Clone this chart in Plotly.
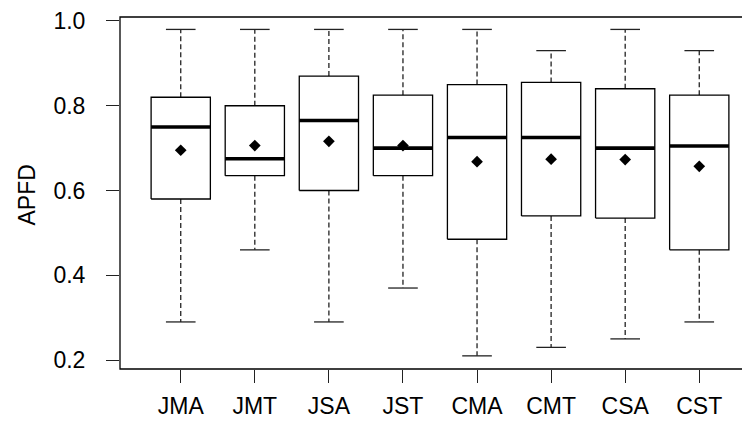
import plotly.graph_objects as go

categories = ["JMA", "JMT", "JSA", "JST", "CMA", "CMT", "CSA", "CST"]
lower_whisker = [0.29, 0.46, 0.29, 0.37, 0.21, 0.23, 0.25, 0.29]
q1 = [0.58, 0.635, 0.60, 0.635, 0.485, 0.54, 0.535, 0.46]
median = [0.75, 0.675, 0.765, 0.70, 0.725, 0.725, 0.70, 0.705]
q3 = [0.82, 0.80, 0.87, 0.825, 0.85, 0.855, 0.84, 0.825]
upper_whisker = [0.98, 0.98, 0.98, 0.98, 0.98, 0.93, 0.98, 0.93]
mean = [0.695, 0.706, 0.716, 0.706, 0.668, 0.674, 0.673, 0.657]
y_ticks = [0.2, 0.4, 0.6, 0.8, 1.0]
y_title = "APFD"

FONT = "Liberation Sans, Arial, Helvetica, sans-serif"
BOX_HALF = 0.4
CAP_HALF = 0.2
LW = 1.3

pos = list(range(1, len(categories) + 1))

box_x, box_y = [], []
wh_x, wh_y = [], []
cap_x, cap_y = [], []
med_x, med_y = [], []
for p, lo, a, m, b, hi in zip(pos, lower_whisker, q1, median, q3, upper_whisker):
    box_x += [p - BOX_HALF, p + BOX_HALF, p + BOX_HALF, p - BOX_HALF, p - BOX_HALF, None]
    box_y += [a, a, b, b, a, None]
    wh_x += [p, p, None, p, p, None]
    wh_y += [b, hi, None, a, lo, None]
    cap_x += [p - CAP_HALF, p + CAP_HALF, None, p - CAP_HALF, p + CAP_HALF, None]
    cap_y += [hi, hi, None, lo, lo, None]
    med_x += [p - BOX_HALF, p + BOX_HALF, None]
    med_y += [m, m, None]

fig = go.Figure()
fig.add_trace(go.Scatter(x=wh_x, y=wh_y, mode="lines",
                         line=dict(color="#222", width=LW, dash="5px,3px"),
                         hoverinfo="skip", showlegend=False))
fig.add_trace(go.Scatter(x=cap_x, y=cap_y, mode="lines",
                         line=dict(color="#222", width=LW),
                         hoverinfo="skip", showlegend=False))
fig.add_trace(go.Scatter(x=box_x, y=box_y, mode="lines", fill="toself",
                         fillcolor="white", line=dict(color="black", width=LW),
                         hoverinfo="skip", showlegend=False))
fig.add_trace(go.Scatter(x=med_x, y=med_y, mode="lines",
                         line=dict(color="black", width=3.6),
                         hoverinfo="skip", showlegend=False))
fig.add_trace(go.Scatter(x=pos, y=mean, mode="markers",
                         marker=dict(symbol="diamond", size=9, color="black"),
                         showlegend=False))

# plot frame (R-style box)
fig.add_shape(type="rect", xref="paper", yref="paper", x0=0, x1=1.03, y0=0, y1=1,
              line=dict(color="black", width=LW), fillcolor="rgba(0,0,0,0)", layer="above")

# y-axis title as rotated annotation for precise placement
fig.add_annotation(text=y_title, xref="paper", yref="paper", x=-0.1476, y=0.493,
                   xanchor="center", yanchor="middle", textangle=-90,
                   showarrow=False, font=dict(family=FONT, size=23, color="black"))

# page body has an 8px margin, so the figure is sized/offset to compensate
fig.update_layout(
    width=742, height=416,
    margin=dict(l=112, r=0, t=4, b=55),
    paper_bgcolor="white", plot_bgcolor="white",
    font=dict(family=FONT, size=23, color="black"),
    xaxis=dict(range=[0.18, 8.685], tickvals=pos, ticktext=categories,
               ticks="outside", ticklen=13, tickwidth=LW, tickcolor="#222",
               showgrid=False, zeroline=False, showline=False,
               ticklabelstandoff=3),
    yaxis=dict(range=[0.179, 1.0093], tickvals=y_ticks,
               ticktext=[f"{v:.1f}" for v in y_ticks],
               ticks="outside", ticklen=13, tickwidth=LW, tickcolor="#222",
               showgrid=False, zeroline=False, showline=False,
               ticklabelstandoff=16, ticklabeloverflow="allow"),
)

fig.write_html("out.html")
